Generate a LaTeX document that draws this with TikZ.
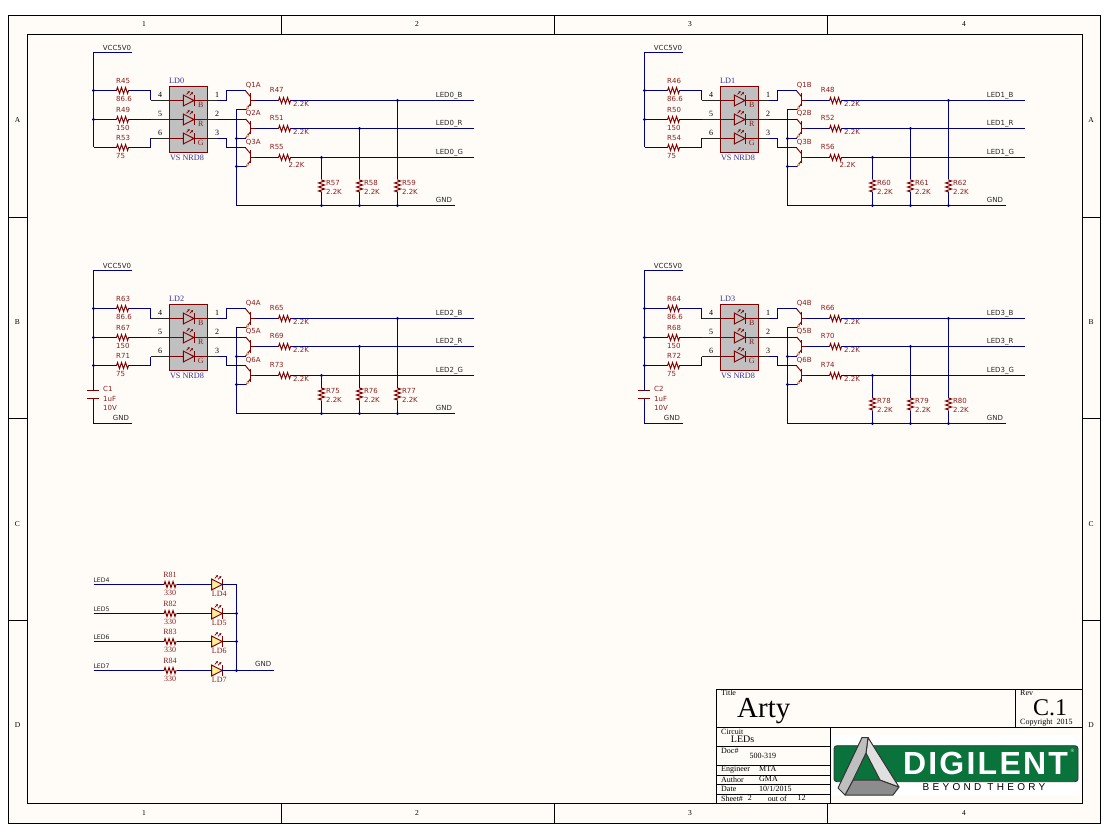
\documentclass[tikz,border=0pt]{standalone}
\usepackage{fontspec}
\setmainfont{Liberation Serif}
\setsansfont{DejaVu Sans}
\newfontfamily\logofont[LetterSpace=7]{Liberation Sans}
\newfontfamily\tagfont[LetterSpace=33]{Liberation Sans}
\usetikzlibrary{arrows.meta}
\definecolor{netblue}{RGB}{0,0,128}
\definecolor{partred}{RGB}{128,0,0}
\definecolor{labelred}{RGB}{140,30,30}
\definecolor{refblue}{RGB}{50,50,150}
\definecolor{sheetbg}{RGB}{255,252,248}
\definecolor{chipgray}{RGB}{192,192,192}
\definecolor{logogreen}{RGB}{10,115,60}
\definecolor{ledyellow}{RGB}{255,240,150}
\tikzset{
  net/.style={draw=netblue, line width=1.2pt},
  part/.style={draw=partred, line width=0.95pt},
  lead/.style={draw=black!85, line width=1.1pt},
  frame/.style={draw=black, line width=1pt},
  txt/.style={inner sep=0pt, anchor=west, text=black!85},
  netname/.style={txt, font=\fontsize{7}{7}\sffamily},
  netsmall/.style={txt, font=\fontsize{6.2}{6.2}\sffamily},
  reftext/.style={txt, text=labelred, font=\fontsize{7}{7}\sffamily},
  serifred/.style={inner sep=0pt, text=labelred, font=\fontsize{8}{8}\selectfont},
  chiptext/.style={inner sep=0pt, text=refblue, font=\fontsize{8.2}{8.2}\selectfont},
  pintext/.style={inner sep=0pt, font=\fontsize{8}{8}\selectfont},
  tinytext/.style={txt, text=black, font=\fontsize{8}{8}\selectfont},
  ticktext/.style={inner sep=0pt, font=\fontsize{7.5}{7.5}\selectfont},
  junc/.style={circle, fill=netblue, inner sep=0pt, minimum size=3.4pt},
  chipbox/.style={draw=partred, line width=1.1pt, fill=chipgray, inner sep=0pt, minimum width=38pt, minimum height=66pt},
  resh/.pic={
    \draw[part] (-6.5,0) -- (-6,0) -- (-5,-3) -- (-3,3) -- (-1,-3) -- (1,3) -- (3,-3) -- (5,3) -- (6,0) -- (6.5,0);
    \coordinate (-l) at (-6.5,0);
    \coordinate (-r) at (6.5,0);
  },
  ledd/.pic={
    \draw[part, fill=#1] (-5.3,-5.4) -- (-5.3,5.4) -- (5.3,0) -- cycle;
    \draw[part] (5.3,-5.4) -- (5.3,5.4);
    \draw[part, line width=0.7pt, -{Stealth[length=2.4pt,width=2.4pt]}] (-2.2,-6.2) -- (1,-9.4);
    \draw[part, line width=0.7pt, -{Stealth[length=2.4pt,width=2.4pt]}] (1,-5.2) -- (4.4,-8.4);
    \coordinate (-l) at (-5.3,0);
    \coordinate (-r) at (5.3,0);
  },
  qbjt/.pic={
    \draw[part, line width=1.5pt] (0,-7) -- (0,6);
    \draw[part] (-5,-9.5) -- (0,-3.6);
    \draw[part] (-5,9.5) -- (0,3);
    \draw[part] (0,0) -- (4,0);
    \fill[ledyellow!70!orange, draw=partred!60, line width=0.2pt] (-4.4,8.8) -- (-1.6,7.4) -- (-3.4,5.4) -- cycle;
    \coordinate (-e) at (-5,-9.5);
    \coordinate (-c) at (-5,9.5);
    \coordinate (-b) at (4,0);
  },
}
\begin{document}
\begin{tikzpicture}[x=1pt,y=-1pt]
    \useasboundingbox (0,0) rectangle (1112,840);
    \fill[white] (0,0) rectangle (1112,840);
    \draw[frame, fill=sheetbg] (8.5,15.5) rectangle (1100.5,823.5);
    \draw[frame] (27.5,34.5) rectangle (1082.5,803.5);

    % Zone ticks and letters
    \foreach \x in {281.5,554.5,827.5} {
        \draw[frame] (\x,15.5) -- (\x,34.5);
        \draw[frame] (\x,803.5) -- (\x,823.5);
    }
    \foreach \y in {217.5,418.5,620.5} {
        \draw[frame] (8.5,\y) -- (27.5,\y);
        \draw[frame] (1082.5,\y) -- (1100.5,\y);
    }
    \foreach \x/\t in {144/1,417/2,690/3,964/4} {
        \node[ticktext] (top\t) at (\x,24.5) {\t};
        \node[ticktext] (bot\t) at (\x,813) {\t};
    }
    \foreach \y/\t in {120/A,322/B,524/C,725/D} {
        \node[ticktext] (lft\t) at (17.5,\y) {\t};
        \node[ticktext] (rgt\t) at (1091,\y) {\t};
    }

    % RGB LED groups
    \foreach \bx/\by/\ld/\ra/\rb/\rc/\rd/\re/\rf/\rg/\rh/\ri/\qa/\qb/\qc/\nm/\gs/\tx/\ty in {
        0/0/LD0/R45/R49/R53/R47/R51/R55/R57/R58/R59/Q1A/Q2A/Q3A/LED0/0/296.5/165,
        551/0/LD1/R46/R50/R54/R48/R52/R56/R60/R61/R62/Q1B/Q2B/Q3B/LED1/0/296.5/165,
        0/218/LD2/R63/R67/R71/R65/R69/R73/R75/R76/R77/Q4A/Q5A/Q6A/LED2/-10/301/161,
        551/218/LD3/R64/R68/R72/R66/R70/R74/R78/R79/R80/Q4B/Q5B/Q6B/LED3/0/301/161}
    {
    \begin{scope}[shift={(\bx,\by)}]
        % Supply rail
        \coordinate (\ld-vcc) at (132,52.5);
        \coordinate (\ld-rail) at (93.5,52.5);
        \node[netname] (\ld-vcctext) at (102.7,47.5) {VCC5V0};
        \node[junc] (\ld-j1) at (93.5,90.5) {};
        \node[junc] (\ld-j2) at (93.5,119.5) {};
        \coordinate (\ld-j3) at (93.5,147.5);
        \draw[net] (\ld-vcc) -- (\ld-rail) -- (\ld-j1.center) -- (\ld-j2.center) -- (\ld-j3);

        % Series resistors
        \foreach \n/\y/\v in {\ra/90.5/86.6,\rb/119.5/150,\rc/147.5/75} {
            \pic (\n) at (122.5,\y) {resh};
            \node[reftext] (\n-name) at (116,\y-9.5) {\n};
            \node[reftext] (\n-val) at (116,\y+8) {\v};
        }

        % LED package
        \node[chipbox] (\ld) at (188.5,119.5) {};
        \node[chiptext, anchor=west] (\ld-name) at (169,81) {\ld};
        \node[chiptext] (\ld-part) at (187,157.5) {VS NRD8};
        \foreach \p/\q/\y/\c in {4/1/100.5/B,5/2/119.5/R,6/3/138.5/G} {
            \coordinate (\ld-i\p) at (169.5,\y);
            \coordinate (\ld-o\q) at (207.5,\y);
            \coordinate (\ld-s\p) at (150.5,\y);
            \coordinate (\ld-t\q) at (217.5,\y);
            \pic (\ld-d\p) at (188.7,\y) {ledd=none};
            \draw[part] (\ld-i\p) -- (\ld-d\p-l);
            \draw[part] (\ld-d\p-r) -- (\ld-o\q);
            \draw[lead] (\ld-s\p) -- (\ld-i\p);
            \draw[lead] (\ld-o\q) -- (\ld-t\q);
            \node[pintext] (\ld-n\p) at (160,\y-5.5) {\p};
            \node[pintext] (\ld-n\q) at (217,\y-5.5) {\q};
            \node[pintext, text=labelred] (\ld-c\c) at (200.8,\y+4.6) {\c};
        }
        \draw[net] (\ld-j1.center) -- (\ra-l);
        \draw[net] (\ld-j2.center) -- (\rb-l);
        \draw[net] (\ld-j3) -- (\rc-l);
        \draw[net] (\ra-r) -| (\ld-s4);
        \draw[net] (\rb-r) -- (\ld-s5);
        \draw[net] (\rc-r) -| (\ld-s6);

        % Switching transistors
        \foreach \n/\y/\t in {\qa/100.5/85,\qb/128.5/113,\qc/157.5/142} {
            \pic (\n) at (250.7,\y) {qbjt};
            \node[reftext] (\n-name) at (245.7,\t) {\n};
        }
        \coordinate (\ld-k1) at (226.5,90.5);
        \coordinate (\ld-k3) at (226.5,147.5);
        \draw[net] (\ld-t1) -| (\ld-k1) -- (\ld-k1 -| \qa-e);
        \draw[net] (\ld-t2) -- (\ld-t2 -| \qb-e);
        \draw[net] (\ld-t3) -| (\ld-k3) -- (\ld-k3 -| \qc-e);

        % Ground bus
        \coordinate (\ld-g0) at (236.5,109.5);
        \node[junc] (\ld-g1) at (236.5,138.5) {};
        \node[junc] (\ld-g2) at (236.5,166.5) {};
        \coordinate (\ld-g3) at (236.5,205.5+\gs);
        \coordinate (\ld-g4) at (455,205.5+\gs);
        \draw[net] (\ld-g0 -| \qa-c) -- (\ld-g0) -- (\ld-g1.center) -- (\ld-g2.center) -- (\ld-g3) -- (\ld-g4);
        \draw[net] (\ld-g1 -| \qb-c) -- (\ld-g1.center);
        \draw[net] (\ld-g2 -| \qc-c) -- (\ld-g2.center);
        \node[netname] (\ld-gnd) at (435.7,199.5+\gs) {GND};

        % Output resistors and nets
        \foreach \n/\m/\y/\ly/\lx/\tyy/\c in {\rd/\qa/100.5/90/301/104/B,\re/\qb/128.5/118/301/132.3/R,\rf/\qc/157.5/146.5/\tx/\ty/G} {
            \pic (\n) at (284.5,\y) {resh};
            \node[reftext] (\n-name) at (269.7,\ly) {\n};
            \node[reftext, anchor=center] (\n-val) at (\lx,\tyy) {2.2K};
            \coordinate (\nm-\c) at (474,\y);
            \draw[net] (\m-b) -- (\n-l);
            \draw[net] (\n-r) -- (\nm-\c);
        }
        \foreach \n/\x/\y/\t/\c in {\ri/397.5/100.5/95.5/B,\rh/359.5/128.5/124/R,\rg/321.5/157.5/152.5/G} {
            \node[junc] (\n-top) at (\x,\y) {};
            \node[junc] (\n-bot) at (\x,205.5+\gs) {};
            \pic[rotate=90] (\n) at (\x,186+\gs) {resh};
            \draw[net] (\n-top.center) -- (\n-r);
            \draw[net] (\n-l) -- (\n-bot.center);
            \node[reftext] (\n-name) at (\x+4.4,182.5+\gs) {\n};
            \node[reftext] (\n-val) at (\x+4.4,191.8+\gs) {2.2K};
            \node[netname] (\nm-\c-text) at (435.7,\t) {\nm\_\c};
        }
    \end{scope}
    }

    % Decoupling on the lower groups
    \foreach \bx/\ld/\cc in {0/LD2/C1,551/LD3/C2} {
    \begin{scope}[shift={(\bx,0)}]
        \node[junc] (\cc-j) at (93.5,365.5) {};
        \coordinate (\cc-up) at (93.5,390.5);
        \coordinate (\cc-dn) at (93.5,398.5);
        \coordinate (\cc-g) at (93.5,423.5);
        \coordinate (\cc-e) at (132,423.5);
        \draw[part] (87.3,390.5) -- (99.3,390.5);
        \draw[part] (87.3,398.5) -- (99.3,398.5);
        \draw[net] (\cc-j.center) -- (\cc-up);
        \draw[net] (\cc-dn) -- (\cc-g) -- (\cc-e);
        \node[reftext] (\cc-name) at (103,389) {\cc};
        \node[reftext] (\cc-val) at (103,398.5) {1uF};
        \node[reftext] (\cc-volt) at (103,408) {10V};
        \node[netname] (\cc-gnd) at (112.7,418.3) {GND};
    \end{scope}
    }

    % Discrete LEDs
    \foreach \r/\d/\nm/\y in {R81/LD4/LED4/584.5,R82/LD5/LED5/613.5,R83/LD6/LED6/641.5,R84/LD7/LED7/670.5} {
        \coordinate (\nm-s) at (93.5,\y);
        \coordinate (\nm-e) at (236.5,\y);
        \pic (\r) at (170,\y) {resh};
        \pic (\d) at (217,\y) {ledd=ledyellow};
        \draw[net] (\nm-s) -- (\r-l);
        \draw[net] (\r-r) -- (\d-l);
        \draw[net] (\d-r) -- (\nm-e);
        \node[netsmall] (\nm-text) at (93.3,\y-4.7) {\nm};
        \node[serifred] (\r-name) at (170,\y-9.3) {\r};
        \node[serifred] (\r-val) at (170,\y+8.4) {330};
        \node[serifred] (\d-name) at (219.3,\y+9.5) {\d};
    }
    \node[junc] (bus5) at (236.5,613.5) {};
    \node[junc] (bus6) at (236.5,641.5) {};
    \node[junc] (bus7) at (236.5,670.5) {};
    \coordinate (busend) at (274,670.5);
    \draw[net] (LED4-e) -- (bus5.center) -- (bus6.center) -- (bus7.center) -- (busend);
    \node[netname] (busgnd) at (255,664) {GND};

    % Title block
    \draw[frame] (716.5,689.5) rectangle (1082.5,803.5);
    \draw[frame] (1015.5,689.5) -- (1015.5,727.5);
    \draw[frame] (716.5,727.5) -- (1082.5,727.5);
    \draw[frame] (830.5,727.5) -- (830.5,803.5);
    \foreach \y in {746.5,765.5,775.5,784.5,794.5}
        \draw[frame] (716.5,\y) -- (830.5,\y);
    \foreach \n/\x/\y/\t in {tTitle/721/693/Title,tRev/1020/693/Rev,tCopy/1020/723/Copyright\ \ 2015,tCirc/721/731.5/Circuit,tDoc/721/750.5/Doc\#,tNum/749.3/755.5/500-319,tEng/721/769.3/Engineer,tMta/759/769.3/MTA,tAuth/721/779.3/Author,tGma/759/779.3/GMA,tDate/721/788.7/Date}
        \node[tinytext] (\n) at (\x,\y) {\t};
    \node[tinytext] (tWhen) at (759,788.7) {10/1/2015};
    \node[tinytext] (tSheet) at (721,798.3) {Sheet\#};
    \node[tinytext] (tTwo) at (747.7,798.3) {2};
    \node[tinytext] (tOut) at (767.7,798.3) {out of};
    \node[tinytext] (tAll) at (797.3,798.3) {12};
    \node[tinytext, font=\fontsize{10}{10}\selectfont] (tLeds) at (730.7,739.7) {LEDs};
    \node[tinytext, font=\fontsize{29}{29}\selectfont] (tArty) at (737,711.5) {Arty};
    \node[inner sep=0pt, text=black, font=\fontsize{24}{24}\selectfont] (tC) at (1050,707.5) {C.1};

    % Logo
    \fill[white] (832,735) rectangle (1080,795);
    \draw[draw=black!80, line width=0.9pt, fill=logogreen, rounded corners=3pt] (834,745.7) rectangle (1078,781.7);
    \begin{scope}[draw=black!80, line width=1pt, line join=round]
        \filldraw[fill=black!45] (845,795) -- (893,795) -- (899,787) -- (880,780) -- (853,780) -- cycle;
        \filldraw[fill=black!12] (868,737.5) -- (899,787) -- (880,780) -- (866,753) -- cycle;
        \filldraw[fill=black!25] (862,737.5) -- (868,737.5) -- (866,753) -- (853,780) -- (845,795) -- (838,788) -- cycle;
    \end{scope}
    \node[inner sep=0pt, text=white, font=\logofont\bfseries\fontsize{32}{32}\selectfont] (logoName) at (985.5,763.7) {DIGILENT};
    \node[inner sep=0pt, text=white, font=\fontsize{5}{5}\selectfont] (logoReg) at (1072.5,751) {\textregistered};
    \node[inner sep=0pt, text=black, font=\tagfont\fontsize{10}{10}\selectfont] (logoTag) at (984,787.5) {BEYOND THEORY};
\end{tikzpicture}
\end{document}
